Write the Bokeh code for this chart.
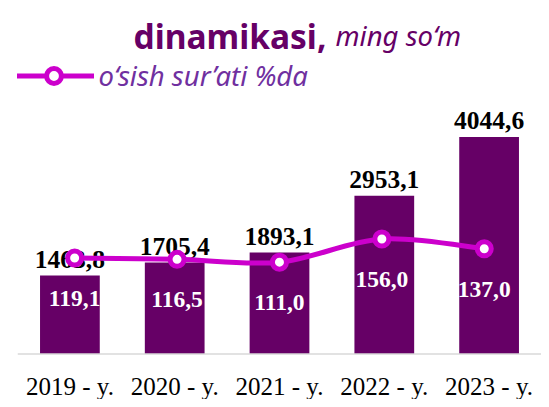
from bokeh.plotting import figure
from bokeh.models import Range1d, Label, Legend, LegendItem, Span
from bokeh.core.properties import value
from bokeh.embed import file_html
from bokeh.resources import INLINE

# ---- data ----
years = ["2019 - y.", "2020 - y.", "2021 - y.", "2022 - y.", "2023 - y."]
wages = [1463.8, 1705.4, 1893.1, 2953.1, 4044.6]
growth = [119.1, 116.5, 111.0, 156.0, 137.0]

title_main = "dinamikasi,"
title_unit = "ming so\u2018m"
legend_label = "o\u2018sish sur\u2019ati %da"

BAR = "#660066"
LINE = "#CC00CC"
LEG_TXT = "#7030A0"

idx = list(range(len(years)))
wage_txt = [f"{v:.1f}".replace(".", ",") for v in wages]
growth_txt = [f"{v:.1f}".replace(".", ",") for v in growth]
base = [0] * len(years)

p = figure(width=541, height=399,
           x_range=Range1d(-0.5, 4.5), y_range=Range1d(-846.1, 6589.6),
           output_backend="svg", toolbar_location=None,
           min_border_left=17, min_border_right=0, min_border_top=0, min_border_bottom=0,
           x_axis_location=None, y_axis_location=None)
p.extra_x_ranges = {"lx": Range1d(-0.558, 4.559)}
p.extra_y_ranges = {"ly": Range1d(-155.8, 619.4)}

p.outline_line_color = None
p.xgrid.visible = False
p.ygrid.visible = False

# category baseline (axis line) and category labels
p.add_layout(Span(location=0, dimension="width", line_color="#D9D9D9", line_width=1.5))
p.text(x=idx, y=base, text=years, text_align="center", text_baseline="alphabetic",
       y_offset=32, text_font=value("Liberation Serif"), text_font_size="25px",
       text_color="black")

# bars
p.vbar(x=idx, top=wages, width=0.57, fill_color=BAR, line_color=None)
p.text(x=idx, y=wages, text=wage_txt, text_align="center", text_baseline="alphabetic",
       y_offset=-16.3, text_font=value("Liberation Serif"), text_font_style="bold",
       text_font_size="25.5px", text_color="black")

# smooth line (Catmull-Rom -> cubic bezier segments computed from data)
n = len(growth)
x0s, y0s, x1s, y1s, cx0s, cy0s, cx1s, cy1s = [], [], [], [], [], [], [], []
for i in range(n - 1):
    a = max(i - 1, 0)
    d = min(i + 2, n - 1)
    x0s.append(idx[i]); y0s.append(growth[i])
    x1s.append(idx[i + 1]); y1s.append(growth[i + 1])
    cx0s.append(idx[i] + (idx[i + 1] - idx[a]) / 6)
    cy0s.append(growth[i] + (growth[i + 1] - growth[a]) / 6)
    cx1s.append(idx[i + 1] - (idx[d] - idx[i]) / 6)
    cy1s.append(growth[i + 1] - (growth[d] - growth[i]) / 6)

bez = p.bezier(x0=x0s, y0=y0s, x1=x1s, y1=y1s, cx0=cx0s, cy0=cy0s, cx1=cx1s, cy1=cy1s,
               line_color=LINE, line_width=5, line_cap="round",
               x_range_name="lx", y_range_name="ly")
sc = p.scatter(x=idx, y=growth, size=14, marker="circle", line_color=LINE, line_width=5,
               fill_color="white", x_range_name="lx", y_range_name="ly")
p.text(x=idx, y=growth, text=growth_txt, text_align="center", text_baseline="alphabetic",
       y_offset=40.5, text_font=value("Liberation Serif"), text_font_style="bold",
       text_font_size="23.5px", text_color="white", x_range_name="lx", y_range_name="ly")

# legend
legend = Legend(items=[LegendItem(label=legend_label, renderers=[bez, sc])],
                location=(-4.5, 305.3), glyph_width=81, glyph_height=37,
                label_standoff=5, padding=0, margin=0, spacing=0,
                border_line_color=None, background_fill_alpha=0,
                label_text_font="Noto Sans", label_text_font_style="italic",
                label_text_font_size="27.5px", label_text_color=LEG_TXT)
p.add_layout(legend)

# title
p.add_layout(Label(x=116, y=363.7, x_units="screen", y_units="screen", text=title_main,
                   text_font="Noto Sans", text_font_style="bold", text_font_size="33.5px",
                   text_color=BAR, text_baseline="alphabetic"))
p.add_layout(Label(x=318, y=363.7, x_units="screen", y_units="screen", text=title_unit,
                   text_font="Noto Sans", text_font_style="italic", text_font_size="27.5px",
                   text_color=BAR, text_baseline="alphabetic"))

open("out.html", "w").write(file_html(p, INLINE))
